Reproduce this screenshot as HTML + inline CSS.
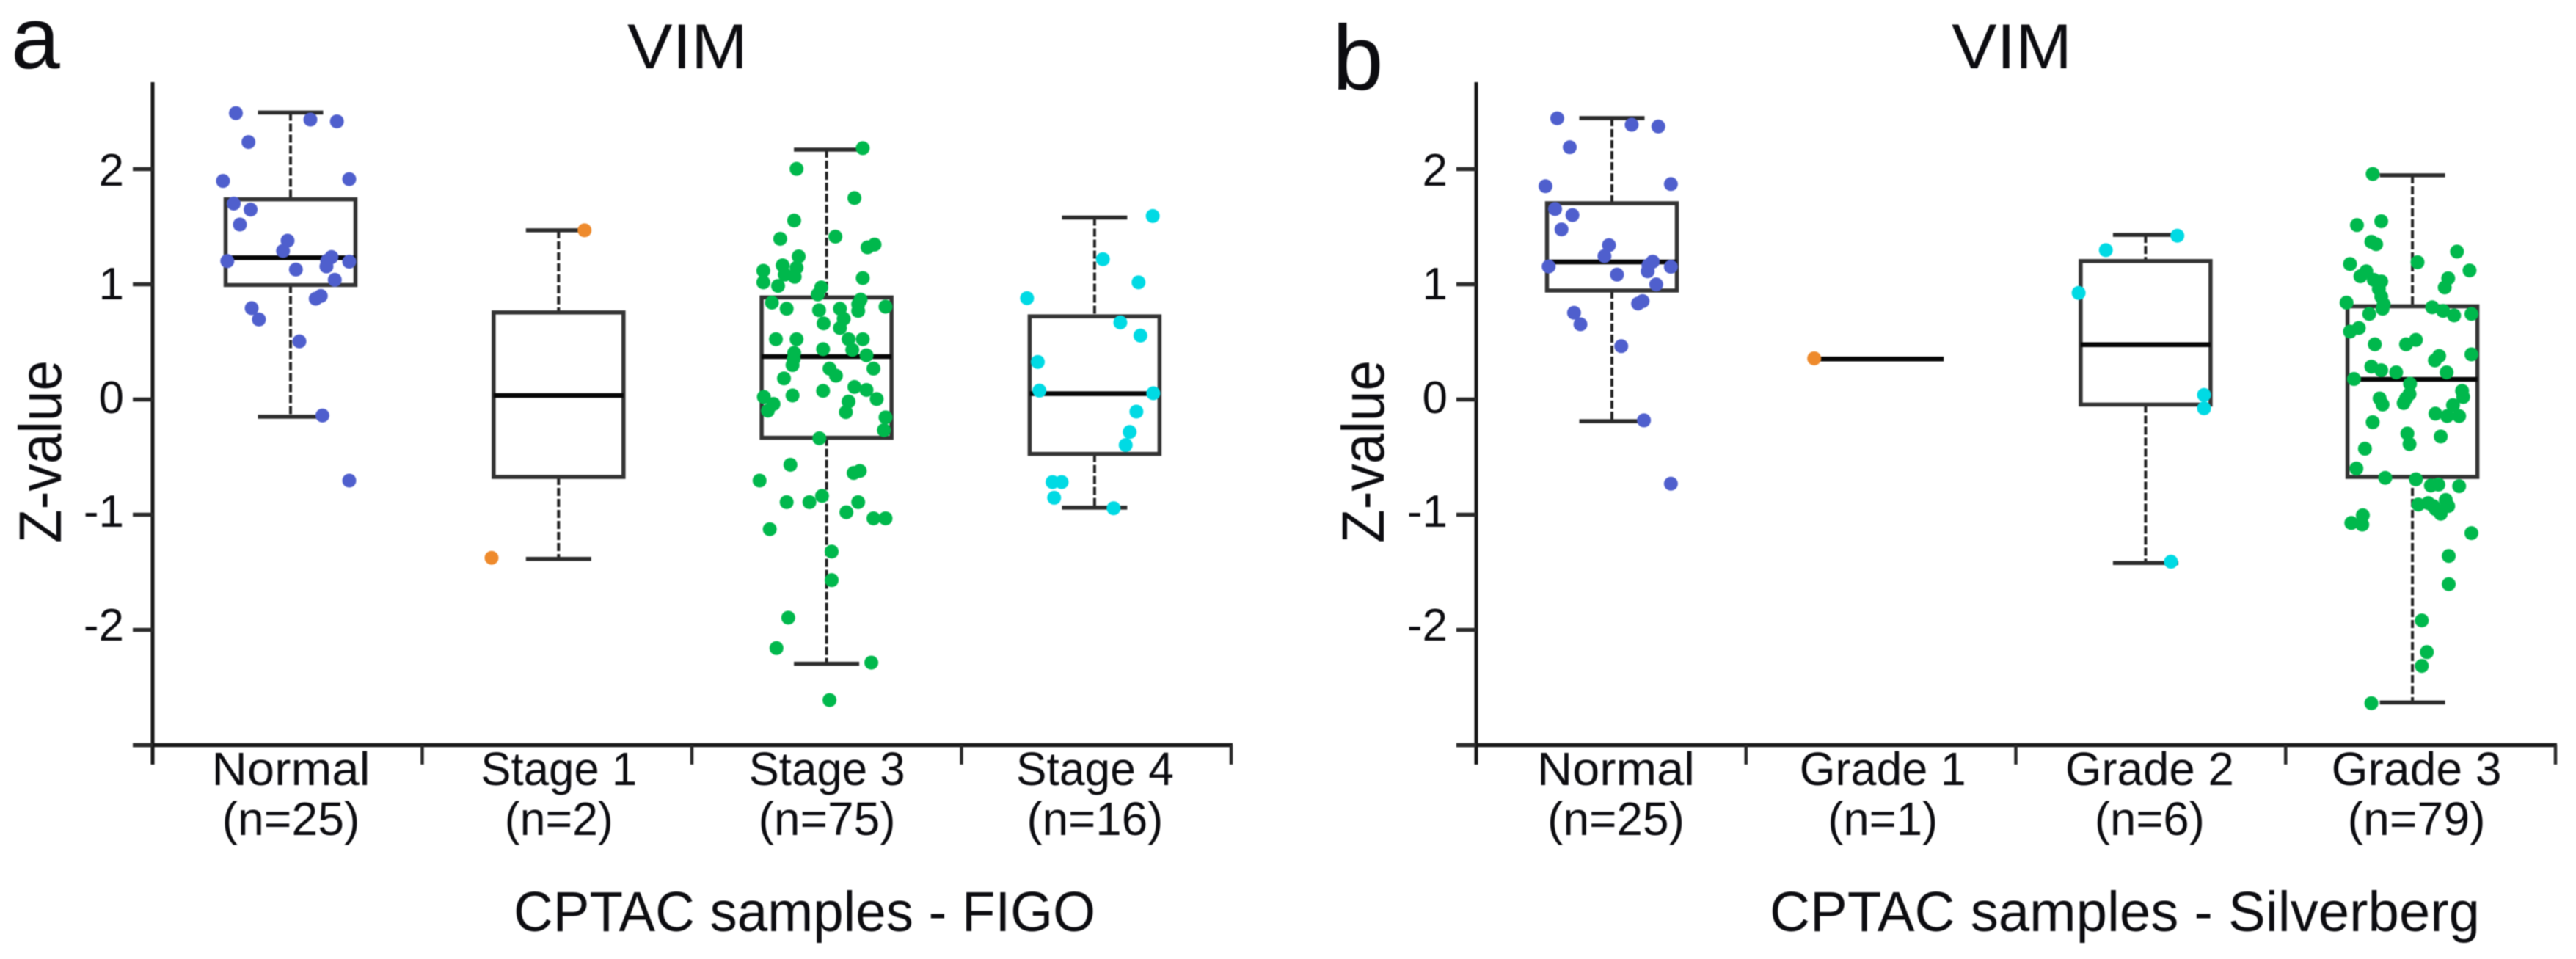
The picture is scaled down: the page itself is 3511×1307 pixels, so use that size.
<!DOCTYPE html>
<html lang="en">
<head>
<meta charset="utf-8">
<title>VIM Z-value boxplots</title>
<style>
html,body{margin:0;padding:0;background:#fff;width:3511px;height:1307px;overflow:hidden}
svg{display:block;filter:blur(0.7px)}
text{font-family:"Liberation Sans",sans-serif;fill:#0c0c10}
</style>
</head>
<body>
<svg id="figure" xmlns="http://www.w3.org/2000/svg" width="3511" height="1307" viewBox="0 0 3511 1307">
  <rect x="0" y="0" width="3511" height="1307" fill="#fff"/>
  <text x="15" y="93" font-size="120">a</text>
  <text x="1816" y="122" font-size="125">b</text>
  <text x="855" y="93" font-size="86" textLength="164" lengthAdjust="spacingAndGlyphs">VIM</text>
  <text x="2660" y="93" font-size="86" textLength="164" lengthAdjust="spacingAndGlyphs">VIM</text>
  <text transform="translate(83,615.5) rotate(-90)" text-anchor="middle" font-size="82" textLength="249" lengthAdjust="spacingAndGlyphs">Z-value</text>
  <text transform="translate(1886,615.5) rotate(-90)" text-anchor="middle" font-size="82" textLength="249" lengthAdjust="spacingAndGlyphs">Z-value</text>
  <text x="700" y="1269" font-size="77" textLength="793" lengthAdjust="spacingAndGlyphs">CPTAC samples - FIGO</text>
  <text x="2412" y="1269" font-size="77" textLength="968" lengthAdjust="spacingAndGlyphs">CPTAC samples - Silverberg</text>
</svg>
<script>
// ---- shared axis data ----
const yTickValues = [2, 1, 0, -1, -2, -3];
const yTickLabels = ['2', '1', '0', '-1', '-2', ''];

// ---- panel a: FIGO ----
const figoCategories = ['Normal', 'Stage 1', 'Stage 3', 'Stage 4'];
const figoCounts = ['(n=25)', '(n=2)', '(n=75)', '(n=16)'];
const figoQ1 = [0.994, -0.672, -0.332, -0.472];
const figoMedian = [1.231, 0.035, 0.373, 0.051];
const figoQ3 = [1.738, 0.756, 0.886, 0.722];
const figoWhiskerLow = [-0.150, -1.384, -2.294, -0.939];
const figoWhiskerHigh = [2.491, 1.469, 2.169, 1.580];

const figoNormalValues = [2.486,2.430,2.414,2.235,1.897,1.913,1.701,1.649,1.519,1.379,1.29,1.202,1.237,1.205,1.155,1.197,1.128,1.039,0.899,0.875,0.793,0.695,0.505,-0.139,-0.704];
const figoNormalJitter = [-.204,.074,.173,-.157,-.252,.219,-.212,-.149,-.189,-.011,-.028,-.236,.153,.137,.134,.219,.020,.165,.113,.094,-.145,-.118,.033,.119,.219];
const figoStage1Values = [1.469,-1.374];
const figoStage1Jitter = [.097,-.25];
const figoStage3Values = [2.182,2.002,1.749,1.554,1.395,1.414,1.345,1.321,1.242,1.165,1.144,1.118,1.084,1.065,1.017,.986,1.054,.973,.912,.867,.841,.788,.775,.788,.769,.806,.701,.661,.621,.524,.524,.524,.524,.437,.431,.405,.384,.299,.268,.268,.207,.183,.109,.075,.083,.035,.022,.004,-.039,-.018,-.097,-.110,-.155,-.266,-.337,-.567,-.620,-.638,-.704,-.891,-.891,-.837,-.891,-.979,-1.032,-1.032,-1.126,-1.320,-1.568,-1.894,-2.158,-2.284,-2.609,.352,.827];
const figoStage3Jitter = [.135,-.112,.104,-.121,-.173,.033,.179,.153,-.104,-.164,-.112,-.236,-.156,-.119,-.236,-.181,.135,-.020,-.033,.127,-.204,-.149,-.028,.050,.118,.220,.064,-.011,.050,-.189,-.112,.082,.135,-.013,.096,-.121,.149,-.127,.011,.175,.035,-.159,.104,-.013,.149,-.127,-.234,.187,-.198,.082,-.219,.072,.220,.214,-.027,-.135,.124,.101,-.250,-.149,-.064,-.017,.118,.074,.175,.220,-.212,.019,.019,-.143,-.187,.167,.011,-.123,.118];
const figoStage4Values = [1.593,1.218,1.017,.880,.669,.555,.326,.077,.054,-.105,-.282,-.395,-.717,-.717,-.853,-.944];
const figoStage4Jitter = [.217,.031,.164,-.252,.096,.171,-.212,-.206,.219,.156,.131,.116,-.157,-.123,-.151,.071];

// ---- panel b: Silverberg ----
const silverbergCategories = ['Normal', 'Grade 1', 'Grade 2', 'Grade 3'];
const silverbergCounts = ['(n=25)', '(n=1)', '(n=6)', '(n=79)'];
const silverbergQ1 = [0.946, 0.352, -0.044, -0.672];
const silverbergMedian = [1.194, 0.352, 0.476, 0.175];
const silverbergQ3 = [1.704, 0.352, 1.202, 0.809];
const silverbergWhiskerLow = [-0.189, 0.352, -1.419, -2.630];
const silverbergWhiskerHigh = [2.443, 0.352, 1.429, 1.947];

const silverbergNormalValues = [2.441,2.385,2.370,2.190,1.852,1.870,1.654,1.601,1.477,1.340,1.245,1.155,1.197,1.165,1.113,1.152,1.084,.999,.854,.833,.753,.653,.463,-.181,-.731];
const silverbergNormalJitter = [-.205,.074,.174,-.158,-.249,.221,-.213,-.148,-.189,-.011,-.028,-.237,.153,.137,.134,.221,.019,.166,.115,.098,-.142,-.118,.035,.120,.221];
const silverbergGrade1Values = [.357];
const silverbergGrade1Jitter = [-.242];
const silverbergGrade2Values = [1.422,1.297,.925,.040,-.076,-1.408];
const silverbergGrade2Jitter = [.119,-.149,-.251,.219,.219,.095];
const silverbergGrade3Values = [1.958,1.514,1.548,1.369,1.348,1.284,1.192,1.176,1.120,1.113,1.070,1.052,1.039,1.025,.973,.959,.893,.827,.841,.801,.769,.730,.743,.743,.621,.590,.518,.479,.479,.392,.378,.339,.286,.254,.236,.236,.178,.136,.075,.048,.022,.009,.009,-.044,-.031,-.049,-.123,-.144,-.144,-.197,-.295,-.321,-.387,-.427,-.599,-.680,-.693,-.747,-.739,-.752,-.912,-.899,-.872,-.952,-.925,-.992,-1.005,-1.072,-1.086,-1.160,-1.358,-1.603,-1.918,-2.193,-2.313,-2.636,.999,.788,-.925];
const silverbergGrade3Jitter = [-.149,-.208,-.117,-.154,-.136,.167,.019,-.234,.214,-.173,-.195,.134,-.145,-.117,.121,-.126,-.117,-.108,-.247,.074,.115,.156,.221,-.162,-.201,-.234,.013,-.024,-.141,.221,.100,.084,-.154,-.117,-.061,.128,-.219,-.009,.186,-.011,.190,-.123,-.024,-.112,-.033,.152,.086,.130,.175,-.149,-.019,.106,-.011,-.178,-.210,-.102,.013,.069,.097,.175,.022,.059,.125,.087,.134,.106,-.186,-.229,-.188,.221,.136,.136,.035,.054,.035,-.154,-.126,-.112,.078];

const NS = 'http://www.w3.org/2000/svg';
const svg = document.getElementById('figure');
const BLUE = '#4f5fcd', ORANGE = '#ee8a2c', GREEN = '#00b84c', CYAN = '#00dae4';

const panelA = {
  id: 'figo', axisX: 208, axisEnd: 1678, first: 396, step: 365.3, labelShift: 0.5,
  nameFit: [216, 213, 213, 215], countFit: [188, 148, 187, 186],
  categories: figoCategories, counts: figoCounts,
  q1: figoQ1, median: figoMedian, q3: figoQ3, low: figoWhiskerLow, high: figoWhiskerHigh,
  values: [figoNormalValues, figoStage1Values, figoStage3Values, figoStage4Values],
  jitter: [figoNormalJitter, figoStage1Jitter, figoStage3Jitter, figoStage4Jitter],
  colors: [BLUE, ORANGE, GREEN, CYAN]
};
const panelB = {
  id: 'silverberg', axisX: 2012, axisEnd: 3483, first: 2197, step: 363.7, labelShift: 5.5,
  nameFit: [215, 227, 230, 232], countFit: [187, 150, 150, 188],
  categories: silverbergCategories, counts: silverbergCounts,
  q1: silverbergQ1, median: silverbergMedian, q3: silverbergQ3, low: silverbergWhiskerLow, high: silverbergWhiskerHigh,
  values: [silverbergNormalValues, silverbergGrade1Values, silverbergGrade2Values, silverbergGrade3Values],
  jitter: [silverbergNormalJitter, silverbergGrade1Jitter, silverbergGrade2Jitter, silverbergGrade3Jitter],
  colors: [BLUE, ORANGE, CYAN, GREEN]
};

function yScale(v) { return 544.5 - 157 * v; }
function yLabelBaseline(v) { return 563 - 155 * v; }
function xScale(p, i) { return p.first + p.step * i; }

function make(tag, parent, attrs) {
  const el = document.createElementNS(NS, tag);
  for (const k in attrs) el.setAttribute(k, attrs[k]);
  parent.appendChild(el);
  return el;
}

function drawPanel(p) {
  const g = make('g', svg, {});
  
  
  const axisColor = '#161616';
  const yBase = yScale(-3);

  // axes
  const yAxis = make('line', g, { x1: p.axisX, x2: p.axisX, y1: 112, y2: 1042, stroke: axisColor, 'stroke-width': 5 });
  
  
  const xAxis = make('line', g, { x1: p.axisX - 27, x2: p.axisEnd + 2, y1: yBase, y2: yBase, stroke: axisColor, 'stroke-width': 5.5 });
  
  

  // y ticks + labels
  yTickValues.forEach(function (v, i) {
    const tick = make('line', g, { x1: p.axisX - 27, x2: p.axisX, y1: yScale(v), y2: yScale(v), stroke: '#2a2a2a', 'stroke-width': 5.5 });
    
    
    if (yTickLabels[i] !== '') {
      const t = make('text', g, { x: p.axisX - 39, y: yLabelBaseline(v), 'font-size': 62, 'text-anchor': 'end' });
      t.textContent = yTickLabels[i];
      
      
    }
  });

  // x ticks
  const cw = (p.axisEnd - p.axisX) / p.categories.length;
  for (let i = 1; i <= p.categories.length; i++) {
    const tx = p.axisX + cw * i;
    const tick = make('line', g, { x1: tx, x2: tx, y1: yBase, y2: 1042, stroke: '#2a2a2a', 'stroke-width': 4.5 });
    
    
  }

  // boxes
  p.categories.forEach(function (name, i) {
    const cx = xScale(p, i);
    const halfBox = 88.5, halfCap = 44.5;
    const degenerate = p.q1[i] === p.q3[i];
    if (!degenerate) {
      const whisker = make('path', g, {
        d: 'M' + cx + ' ' + yScale(p.high[i]) + 'V' + yScale(p.q3[i]) + 'M' + cx + ' ' + yScale(p.q1[i]) + 'V' + yScale(p.low[i]),
        fill: 'none', stroke: '#222', 'stroke-width': 4, 'stroke-dasharray': '11 4'
      });
      
      
      [p.high[i], p.low[i]].forEach(function (w) {
        const cap = make('line', g, { x1: cx - halfCap, x2: cx + halfCap, y1: yScale(w), y2: yScale(w), stroke: '#2c2c2c', 'stroke-width': 5.5 });
        
        
      });
      const box = make('rect', g, {
        x: cx - halfBox, y: yScale(p.q3[i]), width: halfBox * 2, height: yScale(p.q1[i]) - yScale(p.q3[i]),
        fill: 'none', stroke: '#333', 'stroke-width': 5.5
      });
      
      
    }
    const med = make('line', g, { x1: cx - halfBox, x2: cx + halfBox, y1: yScale(p.median[i]), y2: yScale(p.median[i]), stroke: '#060606', 'stroke-width': 6.5 });
    
    

    const lx = cx + p.labelShift;
    const l1 = make('text', g, { x: lx, y: 1070, 'font-size': 64, 'text-anchor': 'middle', textLength: p.nameFit[i], lengthAdjust: 'spacingAndGlyphs' });
    l1.textContent = name;
    
    
    const l2 = make('text', g, { x: lx, y: 1138, 'font-size': 64, 'text-anchor': 'middle', textLength: p.countFit[i], lengthAdjust: 'spacingAndGlyphs' });
    l2.textContent = p.counts[i];
    
    
  });

  // points
  p.values.forEach(function (vals, i) {
    vals.forEach(function (v, j) {
      const dot = make('circle', g, { cx: xScale(p, i + p.jitter[i][j]), cy: yScale(v), r: 9.5, fill: p.colors[i] });
      
      
    });
  });
}

drawPanel(panelA);
drawPanel(panelB);
</script>
</body>
</html>
